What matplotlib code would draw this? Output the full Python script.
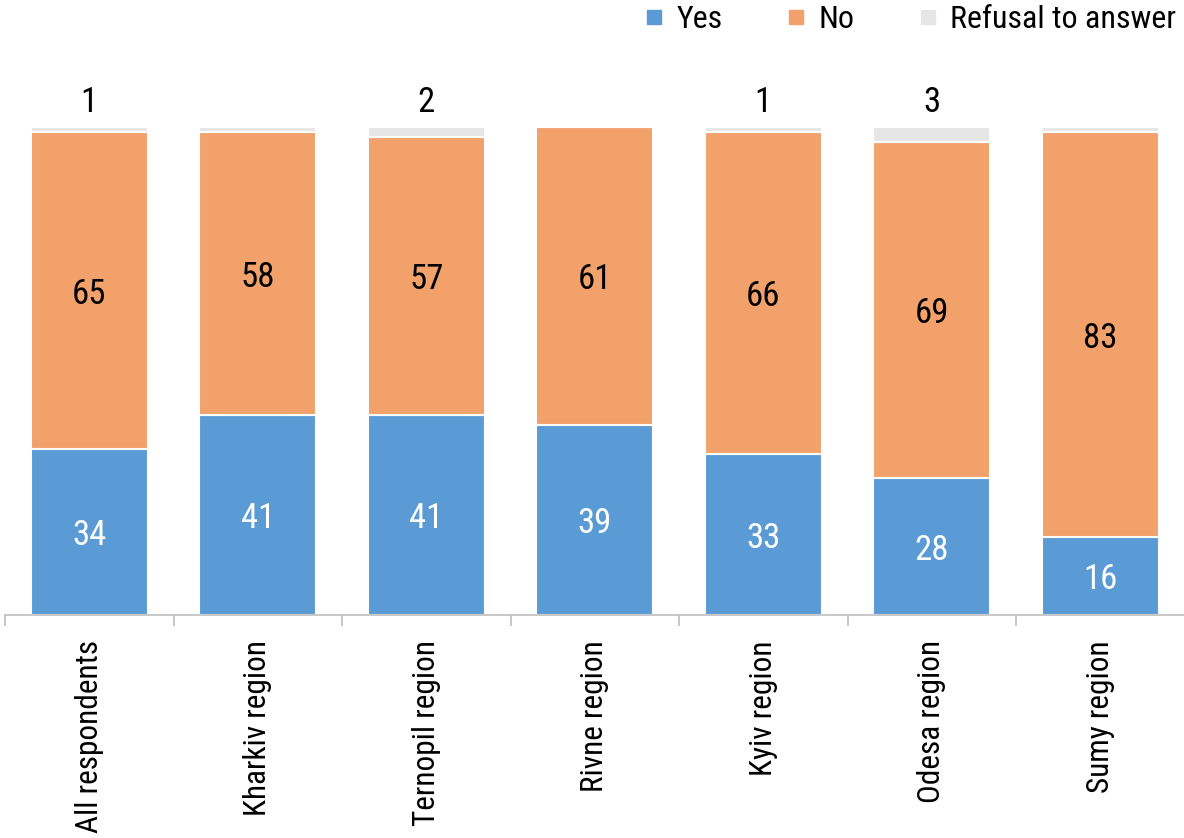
import matplotlib.pyplot as plt
from matplotlib import font_manager
from matplotlib.lines import Line2D

names = {f.name for f in font_manager.fontManager.ttflist}
condensed = 'Roboto Condensed' in names
plt.rcParams['font.family'] = ['Roboto Condensed' if condensed else 'Roboto', 'DejaVu Sans']

regions = ["All respondents", "Kharkiv region", "Ternopil region", "Rivne region",
           "Kyiv region", "Odesa region", "Sumy region"]
yes = [34, 41, 41, 39, 33, 28, 16]
no = [65, 58, 57, 61, 66, 69, 83]
refusal = [1, 1, 2, 0, 1, 3, 1]
refusal_labels = ["1", "", "2", "", "1", "3", ""]

c_yes = '#5B9BD5'
c_no = '#F2A16B'
c_ref = '#E7E6E6'

fig = plt.figure(figsize=(11.84, 8.38), dpi=100)
ax = fig.add_axes([5 / 1184, (838 - 615) / 838, 1179.5 / 1184, 555 / 838])

x = range(len(regions))
w = 0.695
ax.bar(x, yes, w, color=c_yes, edgecolor='white', linewidth=1.5)
ax.bar(x, no, w, bottom=yes, color=c_no, edgecolor='white', linewidth=1.5)
tops = [a + b for a, b in zip(yes, no)]
ax.bar(x, refusal, w, bottom=tops, color=c_ref, edgecolor='white', linewidth=1.5)

fs_val = 25 if condensed else 22
for i in x:
    ax.text(i, yes[i] / 2 - 0.8, str(yes[i]), ha='center', va='center', color='white', fontsize=fs_val)
    ax.text(i, yes[i] + no[i] / 2 - 0.8, str(no[i]), ha='center', va='center', color='black', fontsize=fs_val)
    if refusal_labels[i]:
        ax.text(i, tops[i] + refusal[i] + 5.0, refusal_labels[i], ha='center', va='center',
                color='black', fontsize=fs_val)

ax.set_xlim(-0.5, len(regions) - 0.5)
ax.set_ylim(0, 555 / 4.88)
for s in ['top', 'right', 'left']:
    ax.spines[s].set_visible(False)
ax.spines['bottom'].set_color('#BFBFBF')
ax.spines['bottom'].set_linewidth(1.2)
ax.set_yticks([])
ax.set_xticks(list(x))
ax.set_xticklabels(regions, rotation=90, fontsize=22.5 if condensed else 17)
ax.tick_params(axis='x', which='major', length=0, pad=18)
ax.set_xticks([i - 0.5 for i in range(len(regions) + 1)], minor=True)
ax.tick_params(axis='x', which='minor', length=8, color='#BFBFBF', width=1.2)

handles = [Line2D([], [], marker='s', linestyle='none', markersize=9.5, color=c)
           for c in (c_yes, c_no, c_ref)]
fig.legend(handles, ["Yes", "No", "Refusal to answer"], loc='upper right',
           bbox_to_anchor=(1.018, 1.028), ncol=3, frameon=False,
           fontsize=23 if condensed else 18, handletextpad=0.3, columnspacing=1.9,
           handlelength=0.8)

fig.savefig('out.png', dpi=100)
